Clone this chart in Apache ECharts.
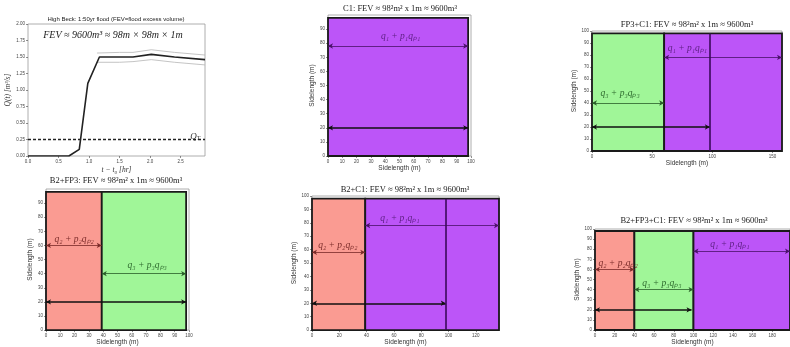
<!DOCTYPE html>
<html>
<head>
<meta charset="UTF-8">
<title>FEV scenarios</title>
<script type="text/javascript" src="https://cdn.jsdelivr.net/npm/echarts@6/dist/echarts.min.js"></script>
<style>
  html, body { margin: 0; padding: 0; background: #fff; }
  #main { width: 790px; height: 347px; }
</style>
</head>
<body>
<div id="main"></div>
<script type="text/javascript">
// --- hydrograph (top-left panel) ---
var flowT  = [0, 0.67, 0.84, 0.98, 1.17, 1.5, 1.72, 2.02, 2.4, 2.9];
var flowQ  = [0, 0, 0.1, 1.1, 1.5, 1.5, 1.5, 1.54, 1.5, 1.46];
var bandT  = [1.13, 1.5, 1.72, 2.02, 2.4, 2.9];
var bandHi = [1.56, 1.57, 1.57, 1.61, 1.57, 1.53];
var bandLo = [1.42, 1.42, 1.43, 1.46, 1.42, 1.38];
var qT = 0.25;
var tMax = 2.9;

// --- scenario panels: regions [x0, x1, type], arrows [x0, x1, y, type, labelX, labelY] ---
var regionTop = 98;
var baseY = 20;
var baseLen = 98;
var c1Regions   = [[0, 98, 'C1']];
var c1Arrows    = [[0, 98, 78, 'C1', 37, 84.5]];
var fpc1Regions = [[0, 60, 'FP3'], [60, 158, 'C1']];
var fpc1Arrows  = [[0, 60, 40, 'FP3', 7, 48], [60, 158, 78, 'C1', 63, 85.5]];
var bfpRegions  = [[0, 39, 'B2'], [39, 98, 'FP3']];
var bfpArrows   = [[0, 39, 60, 'B2', 6, 64], [39, 98, 40, 'FP3', 57, 45.5]];
var bc1Regions  = [[0, 39, 'B2'], [39, 137, 'C1']];
var bc1Arrows   = [[0, 39, 58, 'B2', 4.5, 63], [39, 137, 78, 'C1', 50, 83]];
var allRegions  = [[0, 40, 'B2'], [40, 100, 'FP3'], [100, 198, 'C1']];
var allArrows   = [[0, 40, 60, 'B2', 3.5, 66], [40, 100, 40, 'FP3', 48, 46], [100, 198, 78, 'C1', 117, 85]];

var fills     = { C1: '#bc55f8', FP3: '#a0f698', B2: '#fa9b92' };
var arrowCols = { C1: '#4a126a', FP3: '#2a5e2a', B2: '#7a2a28' };
var textCols  = { C1: '#5b1e80', FP3: '#2e6a2e', B2: '#7c2c2a' };
var qLabels   = { C1: 'q₁ + p₁qₚ₁', FP3: 'q₃ + p₃qₚ₃', B2: 'q₂ + p₂qₚ₂' };

var chart = echarts.init(document.getElementById('main'));

var sans = 'Liberation Sans';
var serif = 'Liberation Serif';
var tickLbl = { fontSize: 4.5, color: '#444', margin: 3, fontFamily: sans };
var tick = { show: true, length: 2, lineStyle: { color: '#444', width: 0.6 } };

var grids = [
  { left: 28,  top: 24,  width: 177, height: 132 },
  { left: 328, top: 15,  width: 143, height: 141 },
  { left: 592, top: 31,  width: 190, height: 120 },
  { left: 46,  top: 189, width: 143, height: 142 },
  { left: 312, top: 196, width: 187, height: 136 },
  { left: 595, top: 229, width: 200, height: 101 }
];
grids.forEach(function (g) {
  g.show = true; g.borderColor = '#999'; g.borderWidth = 0.8; g.containLabel = false;
});

function xAx(i, max, interval, showMax) {
  return {
    gridIndex: i, type: 'value', min: 0, max: max, interval: interval,
    splitLine: { show: false }, axisLine: { show: false }, axisTick: tick,
    axisLabel: Object.assign({ showMaxLabel: showMax }, tickLbl),
    name: 'Sidelength (m)', nameLocation: 'middle', nameGap: 7,
    nameTextStyle: { fontSize: 6.5, color: '#333', fontFamily: sans }
  };
}
function yAx(i, showMax) {
  return {
    gridIndex: i, type: 'value', min: 0, max: 100, interval: 10,
    splitLine: { show: false }, axisLine: { show: false }, axisTick: tick,
    axisLabel: Object.assign({ showMaxLabel: showMax }, tickLbl),
    name: 'Sidelength (m)', nameLocation: 'middle', nameGap: 9,
    nameTextStyle: { fontSize: 6.5, color: '#333', fontFamily: sans }
  };
}

var xAxes = [
  {
    gridIndex: 0, type: 'value', min: 0, max: tMax, interval: 0.5,
    splitLine: { show: false }, axisLine: { show: false }, axisTick: tick,
    axisLabel: Object.assign({ showMaxLabel: false, formatter: function (v) { return v.toFixed(1); } }, tickLbl),
    name: 't − t₀ [hr]', nameLocation: 'middle', nameGap: 10,
    nameTextStyle: { fontSize: 7.5, color: '#333', fontFamily: serif, fontStyle: 'italic' }
  },
  xAx(1, 100, 10, true),
  xAx(2, 158, 50, false),
  xAx(3, 100, 10, true),
  xAx(4, 137, 20, false),
  xAx(5, 198, 20, false)
];
var yAxes = [
  {
    gridIndex: 0, type: 'value', min: 0, max: 2, interval: 0.25,
    splitLine: { show: false }, axisLine: { show: false }, axisTick: tick,
    axisLabel: Object.assign({ formatter: function (v) { return v.toFixed(2); } }, tickLbl),
    name: 'Q(t) [m³/s]', nameLocation: 'middle', nameGap: 14,
    nameTextStyle: { fontSize: 7.5, color: '#333', fontFamily: serif, fontStyle: 'italic' }
  },
  yAx(1, false), yAx(2, true), yAx(3, false), yAx(4, true), yAx(5, true)
];

function pairs(xs, ys) {
  return xs.map(function (x, k) { return [x, ys[k]]; });
}

var series = [
  { type: 'line', xAxisIndex: 0, yAxisIndex: 0, data: pairs(bandT, bandHi), symbol: 'none',
    lineStyle: { color: '#b5b5b5', width: 0.8 }, animation: false },
  { type: 'line', xAxisIndex: 0, yAxisIndex: 0, data: pairs(bandT, bandLo), symbol: 'none',
    lineStyle: { color: '#b5b5b5', width: 0.8 }, animation: false },
  { type: 'line', xAxisIndex: 0, yAxisIndex: 0, data: pairs(flowT, flowQ), symbol: 'none',
    lineStyle: { color: '#222', width: 1.6 }, animation: false },
  { type: 'line', xAxisIndex: 0, yAxisIndex: 0, data: [[0, qT], [tMax, qT]], symbol: 'none',
    lineStyle: { color: '#222', width: 1.4, type: [3, 2] }, animation: false },
  { type: 'custom', xAxisIndex: 0, yAxisIndex: 0, data: [[2.66, qT + 0.05]], animation: false,
    renderItem: function (params, api) {
      var p = api.coord([api.value(0), api.value(1)]);
      return { type: 'text', x: p[0], y: p[1], style: {
        text: '{a|Q}{b|T}', align: 'left', verticalAlign: 'middle',
        rich: { a: { fontSize: 9, fontFamily: serif, fontStyle: 'italic', fill: '#333', color: '#333' },
                b: { fontSize: 6, fontFamily: serif, fontStyle: 'italic', fill: '#333', color: '#333', padding: [5, 0, 0, 0] } }
      } };
    } }
];

function addPanel(gi, regions, arrows, extraVertical) {
  series.push({
    type: 'custom', xAxisIndex: gi, yAxisIndex: gi, animation: false,
    data: regions.map(function (r) { return [r[0], r[1]]; }),
    encode: { x: [0, 1] },
    renderItem: function (params, api) {
      var a = api.coord([api.value(0), regionTop]);
      var b = api.coord([api.value(1), 0]);
      var key = regions[params.dataIndex][2];
      return { type: 'rect', shape: { x: a[0], y: a[1], width: b[0] - a[0], height: b[1] - a[1] },
        style: { fill: fills[key], stroke: '#1a1a1a', lineWidth: 1.8 } };
    }
  });
  var mlData = arrows.map(function (a) {
    return [{ coord: [a[0], a[2]], lineStyle: { color: arrowCols[a[3]], width: 0.8, type: 'solid' } },
            { coord: [a[1], a[2]] }];
  });
  mlData.push([{ coord: [0, baseY], lineStyle: { color: '#111', width: 1.6, type: 'solid' } },
               { coord: [baseLen, baseY] }]);
  if (extraVertical) {
    mlData.push([{ coord: [baseLen, 0], symbol: 'none', lineStyle: { color: '#3a0a5a', width: 1.6, type: 'solid' } },
                 { coord: [baseLen, regionTop], symbol: 'none' }]);
  }
  series.push({
    type: 'line', xAxisIndex: gi, yAxisIndex: gi, data: [], animation: false,
    markLine: { silent: true, animation: false, symbol: ['arrow', 'arrow'], symbolSize: [4, 5],
      label: { show: false }, data: mlData }
  });
  series.push({
    type: 'custom', xAxisIndex: gi, yAxisIndex: gi, animation: false,
    data: arrows.map(function (a) { return [a[4], a[5]]; }),
    renderItem: function (params, api) {
      var p = api.coord([api.value(0), api.value(1)]);
      var key = arrows[params.dataIndex][3];
      return { type: 'text', x: p[0], y: p[1], style: {
        text: qLabels[key], fill: textCols[key], align: 'left', verticalAlign: 'middle',
        font: 'italic 9.5px "Liberation Serif"' } };
    }
  });
}

addPanel(1, c1Regions, c1Arrows, false);
addPanel(2, fpc1Regions, fpc1Arrows, true);
addPanel(3, bfpRegions, bfpArrows, false);
addPanel(4, bc1Regions, bc1Arrows, true);
addPanel(5, allRegions, allArrows, false);

function ttl(text, cx, top, size, family, style) {
  return { text: text, left: cx, top: top, textAlign: 'center', padding: 0,
    textStyle: { fontSize: size, fontWeight: 'normal', color: '#222', fontFamily: family, fontStyle: style || 'normal' } };
}

chart.setOption({
  backgroundColor: '#fff',
  animation: false,
  title: [
    ttl('High Beck: 1:50yr flood (FEV=flood excess volume)', 116, 16, 6, sans),
    ttl('FEV ≈ 9600m³ ≈ 98m × 98m × 1m', 113, 30, 10, serif, 'italic'),
    ttl('C1: FEV ≈ 98²m² x 1m ≈ 9600m³', 400, 4, 8.5, serif),
    ttl('FP3+C1: FEV ≈ 98²m² x 1m ≈ 9600m³', 687, 20, 8.5, serif),
    ttl('B2+FP3: FEV ≈ 98²m² x 1m ≈ 9600m³', 116, 176, 8.5, serif),
    ttl('B2+C1: FEV ≈ 98²m² x 1m ≈ 9600m³', 405, 185, 8.5, serif),
    ttl('B2+FP3+C1: FEV ≈ 98²m² x 1m ≈ 9600m³', 694, 216, 8.5, serif)
  ],
  grid: grids,
  xAxis: xAxes,
  yAxis: yAxes,
  series: series
});
</script>
</body>
</html>
